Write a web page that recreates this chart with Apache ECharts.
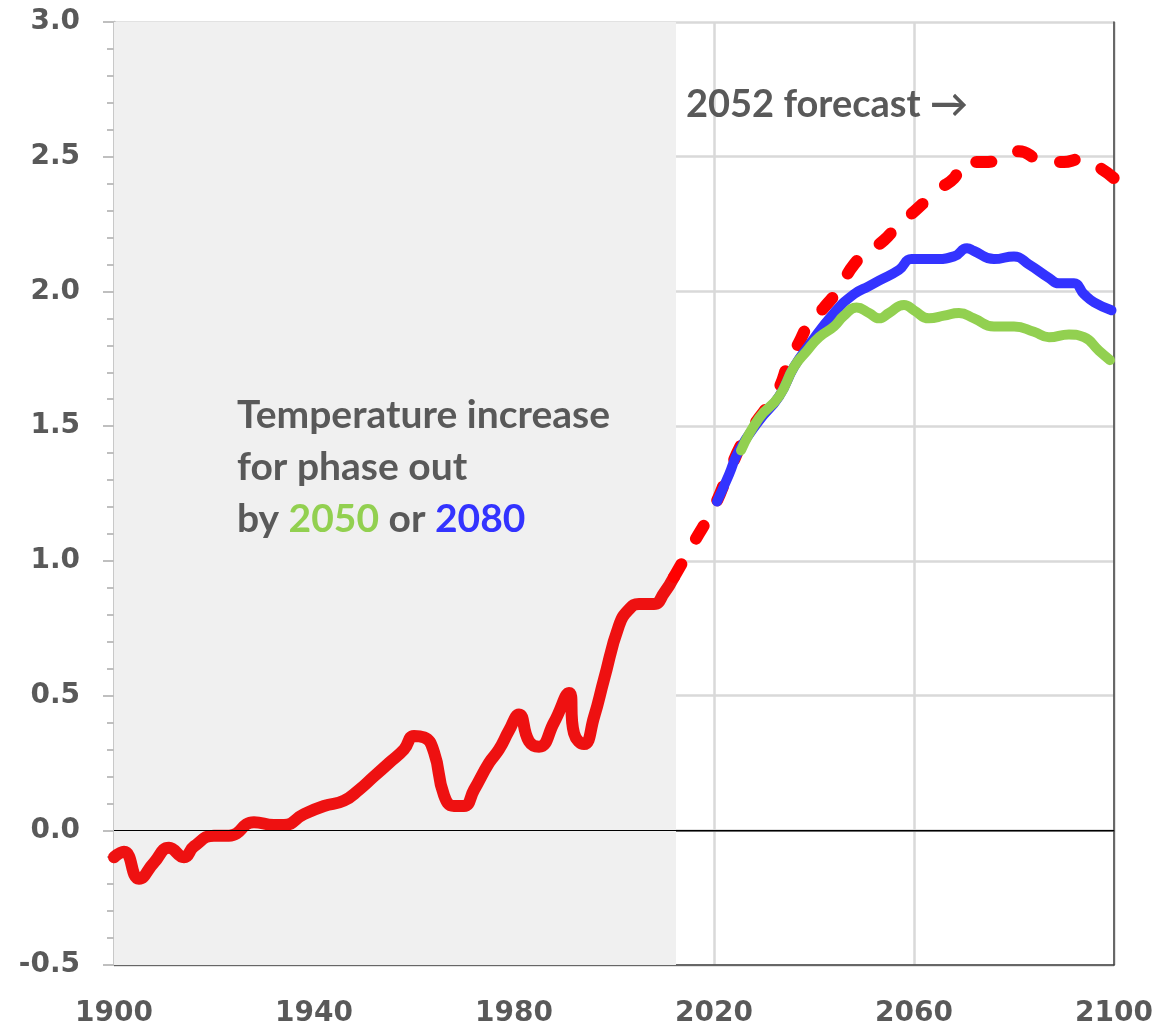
<!DOCTYPE html>
<html>
<head>
<meta charset="utf-8">
<script src="https://cdn.jsdelivr.net/npm/echarts@6/dist/echarts.min.js"></script>
<style>
  html, body { margin: 0; padding: 0; background: #fff; }
  #chart { width: 1176px; height: 1031px; }
</style>
</head>
<body>
<div id="chart"></div>
<script>
// observed record (solid red)
const histYears = [1900, 1902, 1905, 1908, 1911, 1914, 1916, 1920, 1923, 1928, 1932, 1934, 1938, 1942, 1946, 1949, 1952, 1955, 1958, 1960, 1962, 1964, 1966, 1968, 1970, 1972, 1975, 1977, 1979, 1981, 1983, 1985, 1988, 1991, 1992, 1994, 1996, 1998, 2001, 2003, 2005, 2008, 2010, 2012]
const histTemps = [-0.10, -0.08, -0.18, -0.12, -0.065, -0.10, -0.06, -0.02, -0.02, 0.03, 0.02, 0.02, 0.06, 0.09, 0.11, 0.15, 0.20, 0.25, 0.30, 0.35, 0.345, 0.29, 0.13, 0.09, 0.09, 0.15, 0.25, 0.30, 0.37, 0.43, 0.33, 0.31, 0.40, 0.51, 0.36, 0.32, 0.42, 0.56, 0.76, 0.82, 0.84, 0.84, 0.88, 0.94]

// 2052 forecast (dashed red)
const fcYears = [2012, 2016, 2020, 2023, 2026, 2029, 2031, 2033, 2035, 2037, 2039, 2042, 2045, 2048, 2051, 2054, 2057, 2059, 2062, 2065, 2068, 2070, 2074, 2077, 2081, 2085, 2090, 2093, 2097, 2100]
const fcTemps = [0.94, 1.07, 1.20, 1.33, 1.45, 1.53, 1.58, 1.64, 1.74, 1.81, 1.88, 1.94, 2.01, 2.10, 2.15, 2.19, 2.25, 2.28, 2.33, 2.38, 2.42, 2.48, 2.48, 2.49, 2.52, 2.49, 2.48, 2.49, 2.46, 2.42]

// phase out by 2080 (blue)
const blueYears = [2020.6, 2023, 2025, 2029, 2033, 2036, 2039, 2044, 2048, 2051, 2053, 2057, 2059.5, 2064, 2068, 2070.6, 2072, 2076, 2080, 2083, 2087, 2089, 2092, 2094, 2096, 2099.5]
const blueTemps = [1.22, 1.32, 1.41, 1.52, 1.61, 1.72, 1.80, 1.92, 1.99, 2.02, 2.04, 2.08, 2.12, 2.12, 2.13, 2.16, 2.15, 2.12, 2.13, 2.10, 2.05, 2.03, 2.03, 1.99, 1.96, 1.93]

// phase out by 2050 (green)
const greenYears = [2025.4, 2029, 2033, 2036, 2038.6, 2041, 2044, 2046, 2048.5, 2051, 2053, 2055, 2058, 2060, 2063, 2066, 2069, 2072, 2076, 2080, 2084, 2087, 2091, 2094, 2097, 2099.2]
const greenTemps = [1.41, 1.53, 1.61, 1.72, 1.78, 1.83, 1.87, 1.91, 1.94, 1.92, 1.90, 1.92, 1.95, 1.93, 1.90, 1.91, 1.92, 1.90, 1.87, 1.87, 1.85, 1.83, 1.84, 1.83, 1.78, 1.745]

const shadeFrom = 1900
const shadeTo = 2012.4

const zip = ( xs, ys ) => xs.map( ( x, i ) => [ x, ys[ i ] ] )

const textColor = '#595959'
const tickFont = 'DejaVu Sans'
const noteFont = 'Lato'

const chart = echarts.init( document.getElementById( 'chart' ) )

chart.setOption( {
  animation : false,
  grid : {
    left : 114,
    right : 62,
    top : 22,
    bottom : 66
  },
  xAxis : [
    {
      type : 'value',
      min : 1900,
      max : 2100,
      interval : 40,
      axisLine : { show : true, onZero : false, lineStyle : { color : '#404040', width : 1.5 }},
      axisTick : { show : false },
      axisLabel : {
        margin : 35,
        color : textColor,
        fontFamily : tickFont,
        fontWeight : 'bold',
        fontSize : 28,
        formatter : v => String( v )
      },
      splitLine : { show : true, lineStyle : { color : '#d9d9d9', width : 2.5 }}
    },
    {
      type : 'value',
      position : 'top',
      min : 1900,
      max : 2100,
      axisLine : { show : true, lineStyle : { color : '#404040', width : 1.5 }},
      axisTick : { show : false },
      axisLabel : { show : false },
      splitLine : { show : false }
    }
  ],
  yAxis : [
    {
      type : 'value',
      min : -0.5,
      max : 3.0,
      interval : 0.5,
      axisLine : { show : true, onZero : false, lineStyle : { color : '#bfbfbf', width : 2.5 }},
      axisTick : { show : true, length : 11, lineStyle : { color : '#bfbfbf', width : 2 }},
      minorTick : { show : true, splitNumber : 5, length : 7, lineStyle : { color : '#bfbfbf', width : 2 }},
      axisLabel : {
        margin : 34,
        color : textColor,
        fontFamily : tickFont,
        fontWeight : 'bold',
        fontSize : 28,
        formatter : v => v.toFixed( 1 )
      },
      splitLine : { show : true, lineStyle : { color : '#d9d9d9', width : 2.5 }}
    },
    {
      type : 'value',
      position : 'right',
      min : -0.5,
      max : 3.0,
      axisLine : { show : true, lineStyle : { color : '#404040', width : 1.5 }},
      axisTick : { show : false },
      axisLabel : { show : false },
      splitLine : { show : false }
    }
  ],
  graphic : {
    elements : [
      {
        type : 'text',
        x : 686,
        y : 86,
        z : 10,
        style : {
          text : '2052 forecast \u2192',
          fontSize : 38,
          fontWeight : 'bold',
          fontFamily : noteFont,
          fill : textColor
        }
      },
      {
        type : 'text',
        x : 237,
        y : 389,
        z : 10,
        style : {
          text : 'Temperature increase\nfor phase out\nby {g|2050} or {b|2080}',
          fontSize : 39,
          fontWeight : 'bold',
          fontFamily : noteFont,
          fill : textColor,
          lineHeight : 52,
          rich : {
            g : { fill : '#92d050', fontSize : 39, fontWeight : 'bold', fontFamily : noteFont, lineHeight : 52 },
            b : { fill : '#3333ff', fontSize : 39, fontWeight : 'bold', fontFamily : noteFont, lineHeight : 52 }
          }
        }
      }
    ]
  },
  series : [
    {
      name : 'shade',
      type : 'line',
      data : [],
      z : -1,
      silent : true,
      markArea : {
        silent : true,
        itemStyle : { color : '#f0f0f0' },
        data : [ [ { xAxis : shadeFrom, yAxis : -0.5 }, { xAxis : shadeTo, yAxis : 3.0 } ] ]
      }
    },
    {
      name : 'zero',
      type : 'line',
      data : [],
      z : 1,
      silent : true,
      markLine : {
        silent : true,
        symbol : 'none',
        label : { show : false },
        lineStyle : { color : '#000', width : 1.2, type : 'solid' },
        data : [ { yAxis : 0 } ]
      }
    },
    {
      name : 'observed',
      type : 'line',
      data : zip( histYears, histTemps ),
      smooth : 0.5,
      symbol : 'none',
      z : 3,
      lineStyle : { color : '#ee1111', width : 12, cap : 'round', join : 'round' }
    },
    {
      name : '2052 forecast',
      type : 'line',
      data : zip( fcYears, fcTemps ),
      smooth : 0.5,
      symbol : 'none',
      z : 3,
      lineStyle : { color : '#ff0000', width : 12, type : [ 15, 29 ], cap : 'round', join : 'round' }
    },
    {
      name : 'phase out 2080',
      type : 'line',
      data : zip( blueYears, blueTemps ),
      smooth : 0.5,
      symbol : 'none',
      z : 4,
      lineStyle : { color : '#3333ff', width : 10, cap : 'round', join : 'round' }
    },
    {
      name : 'phase out 2050',
      type : 'line',
      data : zip( greenYears, greenTemps ),
      smooth : 0.5,
      symbol : 'none',
      z : 5,
      lineStyle : { color : '#92d050', width : 10, cap : 'round', join : 'round' }
    }
  ]
} )

window.addEventListener( 'resize', () => chart.resize() )
</script>
</body>
</html>
